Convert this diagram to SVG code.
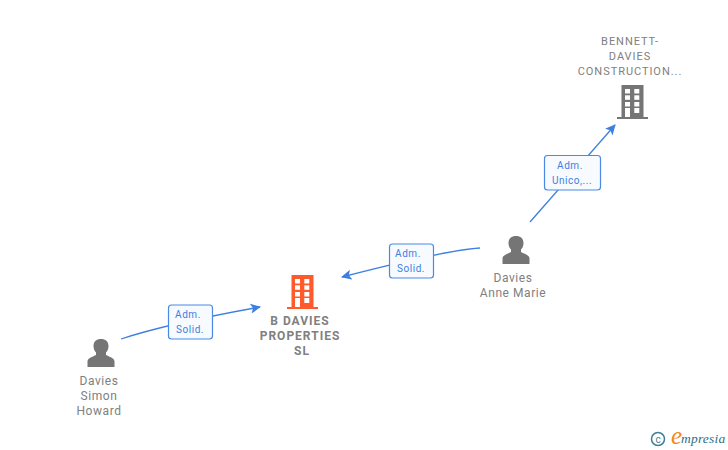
<svg xmlns="http://www.w3.org/2000/svg" width="728" height="450" viewBox="0 0 728 450">
<style>
text{font-family:Roboto,"Liberation Sans",sans-serif}
.n{font-size:12px;fill:#808080;text-anchor:middle;letter-spacing:.55px}
.b{font-size:12px;fill:#808080;text-anchor:middle;font-weight:700;letter-spacing:1px}
.t{font-size:11px;fill:#808080;text-anchor:middle;font-weight:400;letter-spacing:.95px}
.e{fill:none;stroke:#3d7fe0;stroke-width:1.3}
.box{fill:#f7fafe;stroke:#4a8ae6;stroke-width:1.2}
.l{font-size:10px;fill:#3d7fe0;text-anchor:middle;letter-spacing:.55px}
</style>
<defs>
<marker id="a" markerWidth="12" markerHeight="12" refX="9.500" refY="6" orient="auto" markerUnits="userSpaceOnUse"><path d="M0,1L10.500,6L0,11L2.500,6Z" fill="#3d7fe0"/></marker>
<g id="bld">
<path d="M-11,-17H11V15H15.500V17H-15.500V15H-11Z"/>
</g>
<g id="win" fill="#fff">
<rect x="-7.500" y="-13" width="5" height="4.500"/><rect x="1.800" y="-13" width="5" height="4.500"/>
<rect x="-7.500" y="-6.700" width="5" height="4.500"/><rect x="1.800" y="-6.700" width="5" height="4.500"/>
<rect x="-7.500" y="0" width="5" height="4.500"/><rect x="1.800" y="0" width="5" height="4.500"/>
<rect x="-7.500" y="6" width="5" height="9"/><rect x="1.800" y="6" width="5" height="5"/>
</g>
<g id="per" fill="#757575">
<path d="M-13.500,13V7.500C-13.500,4.500 -10,3.500 -5,1V-1.500C-7,-3.500 -7.500,-6 -7.500,-8C-7.500,-12.500 -4.500,-15 0,-15C4.500,-15 7.500,-12.500 7.500,-8C7.500,-6 7,-3.500 5,-1.500V1C10,3.500 13.500,4.500 13.500,7.500V13Z"/>
</g>
</defs>
<g id="connectors">
<path class="e" d="M530,222L615,125" marker-end="url(#a)"/>
<path class="e" d="M480,248C450,250 400,262 342,277" marker-end="url(#a)"/>
<path class="e" d="M121,339C160,326 210,316 260,307" marker-end="url(#a)"/>
</g>
<g id="label-1"><rect class="box" x="544.500" y="155.500" width="56" height="34.500" rx="3"/><text class="l" x="570" y="169">Adm.</text><text class="l" x="572" y="184">Unico,...</text></g>
<g id="label-2"><rect class="box" x="389.500" y="244" width="44" height="34" rx="3"/><text class="l" x="408" y="257">Adm.</text><text class="l" x="411" y="272">Solid.</text></g>
<g id="label-3"><rect class="box" x="168.500" y="305" width="44" height="34" rx="3"/><text class="l" x="188" y="318">Adm.</text><text class="l" x="190" y="333">Solid.</text></g>
<g id="node-bennett">
<text class="t" x="630" y="45">BENNETT-</text><text class="t" x="630" y="60">DAVIES</text><text class="t" x="630" y="75">CONSTRUCTION...</text>
<g transform="translate(632.500,102)"><use href="#bld" fill="#757575"/><use href="#win"/></g>
</g>
<g id="node-anne">
<use href="#per" x="516" y="251"/>
<text class="n" x="513" y="282">Davies</text><text class="n" x="513" y="297">Anne Marie</text>
</g>
<g id="node-bdavies">
<g transform="translate(302.500,292)"><use href="#bld" fill="#ff5a2b"/><use href="#win"/></g>
<text class="b" x="300" y="325">B DAVIES</text><text class="b" x="300" y="340">PROPERTIES</text><text class="b" x="302" y="355">SL</text>
</g>
<g id="node-simon">
<use href="#per" x="101" y="354"/>
<text class="n" x="99" y="385">Davies</text><text class="n" x="99" y="400">Simon</text><text class="n" x="99" y="415">Howard</text>
</g>
<g id="watermark">
<circle cx="658" cy="439" r="6.500" fill="none" stroke="#3f7f94" stroke-width="1.500"/>
<text x="658" y="442.500" font-size="10" fill="#3f7f94" text-anchor="middle">c</text>
<text x="671" y="444" font-size="25" font-style="italic" fill="#f08a1d" style="font-family:'Liberation Serif',serif">e</text>
<text x="681" y="443" font-size="13.500" font-style="italic" fill="#2f6f86" style="font-family:'Liberation Serif',serif" letter-spacing=".2">mpresia</text>
</g>
</svg>
